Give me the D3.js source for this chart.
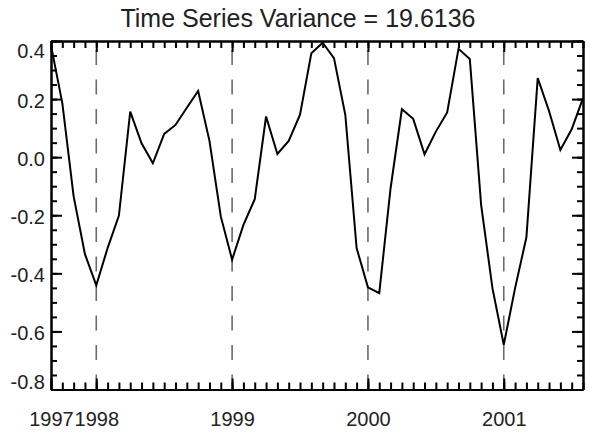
<!DOCTYPE html>
<html lang="en">

<head>
    <meta charset="UTF-8">
    <title>Time Series Variance</title>
    <script src="https://d3js.org/d3.v7.min.js"></script>
    <style>
        body,
        html {
            margin: 0;
            padding: 0;
            overflow: hidden;
            background: #fff;
        }

        text {
            font-family: "Liberation Sans", Arial, Helvetica, sans-serif;
            fill: #222;
        }

        .axis path,
        .axis line {
            stroke: #000;
            stroke-width: 2px;
        }

        .series {
            fill: none;
            stroke: #000;
            stroke-width: 2px;
            stroke-linejoin: miter;
        }

        .year-line {
            stroke: #6a6a6a;
            stroke-width: 1.6px;
            stroke-dasharray: 15, 14.5;
        }
    </style>
</head>

<body>
    <svg width="590" height="432" id="chart"></svg>
    <script>
        // monthly values, Sep 1997 .. Aug 2001 (month index 0..47)
        const values = [
            0.385, 0.186, -0.135, -0.334, -0.441, -0.313, -0.201, 0.157, 0.048, -0.021, 0.080, 0.111,
            0.170, 0.228, 0.056, -0.204, -0.353, -0.233, -0.145, 0.140, 0.011, 0.056, 0.146, 0.358,
            0.394, 0.341, 0.146, -0.313, -0.448, -0.468, -0.107, 0.165, 0.132, 0.010, 0.088, 0.154,
            0.373, 0.338, -0.164, -0.451, -0.646, -0.451, -0.276, 0.272, 0.159, 0.025, 0.096, 0.203
        ];
        const yearMonths = [0, 4, 16, 28, 40];
        const yearLabels = ["1997", "1998", "1999", "2000", "2001"];
        const dashedMonths = [4, 16, 28, 40];
        const yTicks = [-0.8, -0.6, -0.4, -0.2, 0.0, 0.2, 0.4];
        const title = "Time Series Variance = 19.6136";

        const svg = d3.select("#chart");
        const plotL = 51, plotR = 583, plotT = 41, plotB = 389.5;

        const x = d3.scaleLinear().domain([0, 47]).range([plotL, plotR]);
        const y = d3.scaleLinear().domain([-0.8, 0.4]).range([plotB, plotT]);

        const months = d3.range(0, 48);
        const yMinor = d3.range(-0.8, 0.4001, 0.05).map(v => +v.toFixed(2));

        // dashed year markers
        svg.append("g")
            .selectAll("line")
            .data(dashedMonths)
            .join("line")
            .attr("class", "year-line")
            .attr("x1", d => x(d))
            .attr("x2", d => x(d))
            .attr("y1", y(-0.8))
            .attr("y2", y(0.4));

        // minor ticks on all four sides
        svg.append("g").attr("class", "axis")
            .attr("transform", `translate(0,${plotB})`)
            .call(d3.axisBottom(x).tickValues(months).tickSizeInner(-7).tickSizeOuter(0).tickFormat(""));
        svg.append("g").attr("class", "axis")
            .attr("transform", `translate(0,${plotT})`)
            .call(d3.axisTop(x).tickValues(months).tickSizeInner(-7).tickSizeOuter(0).tickFormat(""));
        svg.append("g").attr("class", "axis")
            .attr("transform", `translate(${plotL},0)`)
            .call(d3.axisLeft(y).tickValues(yMinor).tickSizeInner(-6).tickSizeOuter(0).tickFormat(""));
        svg.append("g").attr("class", "axis")
            .attr("transform", `translate(${plotR},0)`)
            .call(d3.axisRight(y).tickValues(yMinor).tickSizeInner(-6).tickSizeOuter(0).tickFormat(""));

        // major ticks + labels
        svg.append("g").attr("class", "axis")
            .attr("transform", `translate(0,${plotB})`)
            .call(d3.axisBottom(x).tickValues(yearMonths).tickSizeInner(-11).tickSizeOuter(0)
                .tickPadding(22).tickFormat((d, i) => yearLabels[i]));
        svg.append("g").attr("class", "axis")
            .attr("transform", `translate(0,${plotT})`)
            .call(d3.axisTop(x).tickValues(yearMonths).tickSizeInner(-11).tickSizeOuter(0).tickFormat(""));

        const yAxis = svg.append("g").attr("class", "axis")
            .attr("transform", `translate(${plotL},0)`)
            .call(d3.axisLeft(y).tickValues(yTicks).tickSizeInner(-11).tickSizeOuter(0)
                .tickPadding(6).tickFormat(d => d.toFixed(1)));
        svg.append("g").attr("class", "axis")
            .attr("transform", `translate(${plotR},0)`)
            .call(d3.axisRight(y).tickValues(yTicks).tickSizeInner(-11).tickSizeOuter(0).tickFormat(""));

        svg.selectAll(".axis text")
            .style("font-size", "20px")
            .attr("fill", "#222");

        // keep the end labels inside the plot height
        yAxis.selectAll(".tick text")
            .attr("dy", d => d === 0.4 ? "0.82em" : d === -0.8 ? "-0.05em" : "0.4em");

        // data line
        svg.append("path")
            .datum(values)
            .attr("class", "series")
            .attr("d", d3.line().x((d, i) => x(i)).y(d => y(d)));

        svg.append("text")
            .attr("x", 298)
            .attr("y", 27)
            .attr("text-anchor", "middle")
            .style("font-size", "25px")
            .text(title);
    </script>
</body>

</html>
